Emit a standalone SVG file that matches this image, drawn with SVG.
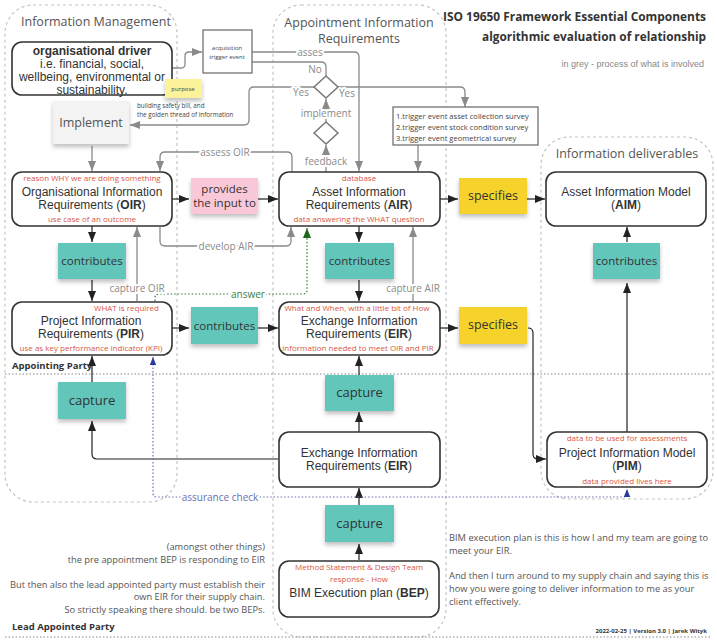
<svg xmlns="http://www.w3.org/2000/svg" width="717" height="644" viewBox="0 0 717 644">
<defs>
<style>
.lane{fill:none;stroke:#c4c4c4;stroke-width:1.2;stroke-dasharray:3 3}
.sep{fill:none;stroke:#888;stroke-width:1.2;stroke-dasharray:1.5 2}
.box{fill:#fff;stroke:#333;stroke-width:1.6}
.tb{fill:#fff;stroke:#666;stroke-width:1.2}
.n{font-family:"Liberation Sans",Arial,sans-serif;font-size:12px;fill:#333;text-anchor:middle}
.red{font-family:"Open Sans",sans-serif;font-size:8px;fill:#d9573f;text-anchor:middle}
.st{font-family:"Open Sans",sans-serif;fill:#333;text-anchor:middle}
.lbl{font-family:"Open Sans",sans-serif;font-size:10px;fill:#8a8a8a;text-anchor:middle;paint-order:stroke;stroke:#fff;stroke-width:4px;stroke-linejoin:round}
.lane-t{font-family:"Open Sans",sans-serif;font-size:12.5px;fill:#555}
.sm{font-family:"Open Sans",sans-serif;fill:#444}
.note{font-family:"Open Sans",sans-serif;font-size:9.3px;fill:#555}
.bold{font-family:"Open Sans",sans-serif;font-weight:bold;fill:#333}
.k{fill:none;stroke:#222;stroke-width:1.2}
.g{fill:none;stroke:#8a8a8a;stroke-width:1.3}
.gr{fill:none;stroke:#2f7a2f;stroke-width:1.2;stroke-dasharray:1.5 2}
.bl{fill:none;stroke:#6a6fb0;stroke-width:1.2;stroke-dasharray:1.5 2}
.teal{fill:#62c6bb}
.yel{fill:#f6d32c}
.pink{fill:#f9c8d8}
</style>
<filter id="sh" x="-20%" y="-20%" width="140%" height="150%">
<feDropShadow dx="0" dy="3" stdDeviation="2" flood-color="#000" flood-opacity="0.25"/>
</filter>
<marker id="ak" viewBox="0 0 10 8" refX="10" refY="4" markerWidth="10" markerHeight="8" markerUnits="userSpaceOnUse" orient="auto"><path d="M0,0 L10,4 L0,8 z" fill="#222"/></marker>
<marker id="ag" viewBox="0 0 10 8" refX="10" refY="4" markerWidth="10" markerHeight="8" markerUnits="userSpaceOnUse" orient="auto"><path d="M0,0 L10,4 L0,8 z" fill="#8a8a8a"/></marker>
<marker id="agr" viewBox="0 0 10 8" refX="10" refY="4" markerWidth="10" markerHeight="8" markerUnits="userSpaceOnUse" orient="auto"><path d="M0,0 L10,4 L0,8 z" fill="#1d6a1d"/></marker>
<marker id="abl" viewBox="0 0 10 8" refX="10" refY="4" markerWidth="8" markerHeight="7" markerUnits="userSpaceOnUse" orient="auto"><path d="M0,0 L10,4 L0,8 z" fill="#2a3a9a"/></marker>
<marker id="abls" viewBox="0 0 10 8" refX="0" refY="4" markerWidth="8" markerHeight="7" markerUnits="userSpaceOnUse" orient="auto"><path d="M10,0 L0,4 L10,8 z" fill="#2a3a9a"/></marker>
</defs>
<rect width="717" height="644" fill="#fff"/>

<!-- lanes -->
<g id="lanes">
<rect class="lane" x="5" y="5" width="172" height="497" rx="28"/>
<rect class="lane" x="273" y="5" width="173" height="632" rx="28"/>
<rect class="lane" x="541" y="137" width="172" height="362" rx="28"/>
<text class="lane-t" x="21" y="26">Information Management</text>
<text class="lane-t" x="359" y="27" text-anchor="middle">Appointment Information</text>
<text class="lane-t" x="359" y="43" text-anchor="middle">Requirements</text>
<text class="lane-t" x="627" y="158" text-anchor="middle">Information deliverables</text>
<line class="sep" x1="5" y1="374" x2="712" y2="374"/>
<line class="sep" x1="5" y1="637" x2="712" y2="637"/>
<text class="bold" x="12" y="369" font-size="9.5">Appointing Party</text>
<text class="bold" x="12" y="630" font-size="9.5">Lead Appointed Party</text>
</g>

<!-- titles and notes -->
<g id="title">
<text class="bold" x="706" y="21" font-size="12" text-anchor="end" textLength="263" lengthAdjust="spacingAndGlyphs">ISO 19650 Framework Essential Components</text>
<text class="bold" x="706" y="41" font-size="12" text-anchor="end" textLength="224" lengthAdjust="spacingAndGlyphs">algorithmic evaluation of relationship</text>
<text x="704" y="67" font-family="Liberation Sans, Arial, sans-serif" font-size="9" fill="#888" text-anchor="end">in grey - process of what is involved</text>
<text class="bold" x="707" y="633" font-size="6" text-anchor="end">2022-02-25 | Version 3.0 | Jarek Wityk</text>
</g>

<g id="note-left" class="note" text-anchor="end">
<text x="265" y="550">(amongst other things)</text>
<text x="265" y="563">the pre appointment BEP is responding to EIR</text>
<text x="265" y="588">But then also the lead appointed party must establish their</text>
<text x="265" y="600">own EIR for their supply chain.</text>
<text x="265" y="613">So strictly speaking there should. be two BEPs.</text>
</g>
<g id="note-right" class="note">
<text x="449" y="541">BIM execution plan is this is how I and my team are going to</text>
<text x="449" y="554">meet your EIR.</text>
<text x="449" y="579">And then I turn around to my supply chain and saying this is</text>
<text x="449" y="592">how you were going to deliver information to me as your</text>
<text x="449" y="605">client effectively.</text>
</g>

<!-- connectors -->
<g id="connectors">
<path class="k" d="M172,199 H189" marker-end="url(#ak)"/>
<path class="k" d="M258,199 H278" marker-end="url(#ak)"/>
<path class="k" d="M440,199 H458" marker-end="url(#ak)"/>
<path class="k" d="M527,199 H545" marker-end="url(#ak)"/>
<path class="k" d="M92,226 V242" marker-end="url(#ak)"/>
<path class="k" d="M92,280 V301" marker-end="url(#ak)"/>
<path class="k" d="M359,226 V242" marker-end="url(#ak)"/>
<path class="k" d="M359,280 V301" marker-end="url(#ak)"/>
<path class="k" d="M172,328 H189" marker-end="url(#ak)"/>
<path class="k" d="M258,328 H278" marker-end="url(#ak)"/>
<path class="k" d="M440,328 H458" marker-end="url(#ak)"/>
<path class="k" d="M528,328 Q533,328 533,333 V454 Q533,459 538,459 H546" stroke="#555" marker-end="url(#ak)"/>
<path class="k" d="M627,432 V283" stroke="#555" marker-end="url(#ak)"/>
<path class="k" d="M627,242 V227" marker-end="url(#ak)"/>
<path class="k" d="M92,382 V356" marker-end="url(#ak)"/>
<path class="k" d="M278,459 H97 Q92,459 92,454 V421" stroke="#444" marker-end="url(#ak)"/>
<path class="k" d="M359,375 V356" marker-end="url(#ak)"/>
<path class="k" d="M359,432 V412" marker-end="url(#ak)"/>
<path class="k" d="M359,505 V488" marker-end="url(#ak)"/>
<path class="k" d="M359,560 V544" marker-end="url(#ak)"/>

<path class="g" d="M172,68 H181 Q185,68 185,64 V56 Q185,52 189,52 H202" marker-end="url(#ag)"/>
<path class="g" d="M252,52 H354 Q359,52 359,57 V171" marker-end="url(#ag)"/>
<path class="g" d="M252,62 H321 Q326,62 326,67 V76"/>
<path class="g" d="M314,87 H254 Q249,87 249,92 V120 Q249,125 244,125 H130" marker-end="url(#ag)"/>
<path class="g" d="M338,87 H460 Q465,87 465,92 V107" marker-end="url(#ag)"/>
<path class="g" d="M326,122 V99" marker-end="url(#ag)"/>
<path class="g" d="M326,172 V145" marker-end="url(#ag)"/>
<path class="g" d="M418,145 V171" marker-end="url(#ag)"/>
<path class="g" d="M292,172 V157 Q292,152 287,152 H165 Q160,152 160,157 V171" marker-end="url(#ag)"/>
<path class="g" d="M92,146 V171" marker-end="url(#ag)"/>
<path class="g" d="M160,227 V241 Q160,246 165,246 H286 Q291,246 291,241 V227" marker-end="url(#ag)"/>
<path class="g" d="M137,301 V227" marker-end="url(#ag)"/>
<path class="g" d="M413,301 V227" marker-end="url(#ag)"/>
<path class="gr" d="M155,301 V298 Q155,294 159,294 H303 Q307,294 307,290 V228" marker-end="url(#agr)"/>
<path class="bl" d="M153,357 V493 Q153,497 157,497 H623 Q627,497 627,493 V489" marker-start="url(#abls)" marker-end="url(#abl)"/>

<text class="lbl" x="310" y="56">asses</text>
<text class="lbl" x="315" y="73">No</text>
<text class="lbl" x="301" y="96">Yes</text>
<text class="lbl" x="347" y="97">Yes</text>
<text class="lbl" x="326" y="117">implement</text>
<text class="lbl" x="326" y="165">feedback</text>
<text class="lbl" x="225" y="156">assess OIR</text>
<text class="lbl" x="226" y="250">develop AIR</text>
<text class="lbl" x="137" y="292">capture OIR</text>
<text class="lbl" x="413" y="292">capture AIR</text>
<text class="lbl" x="248" y="298" style="fill:#3d7d3d">answer</text>
<text class="lbl" x="220" y="501" style="fill:#6a6fb0">assurance check</text>
</g>

<!-- decision diamonds -->
<g id="decision1"><path d="M326,76 L338,87 L326,98 L314,87 Z" fill="#fff" stroke="#777" stroke-width="1.5"/></g>
<g id="decision2"><path d="M326,122 L338,133 L326,144 L314,133 Z" fill="#fff" stroke="#777" stroke-width="1.5"/></g>

<!-- nodes -->
<g id="org-driver">
<rect class="box" x="12" y="42" width="160" height="53" rx="10"/>
<text class="n" x="92" y="55" font-weight="bold" font-size="12.2">organisational driver</text>
<text class="n" x="92" y="68" font-size="11.6">i.e. financial, social,</text>
<text class="n" x="92" y="81" font-size="11.6">wellbeing, environmental or</text>
<text class="n" x="92" y="94" font-size="11.6">sustainability.</text>
</g>
<g id="purpose">
<rect x="165" y="79" width="37" height="19" fill="#fbf29a" filter="url(#sh)"/>
<text class="sm" x="183" y="91" font-size="6" text-anchor="middle">purpose</text>
</g>
<g id="safety-note" class="sm" font-size="6.3">
<text x="137" y="108">building safety bill, and</text>
<text x="137" y="117">the golden thread of information</text>
</g>
<g id="acquisition">
<rect class="tb" x="203" y="30" width="49" height="43"/>
<text class="sm" x="227" y="50" font-size="6" text-anchor="middle">acquisition</text>
<text class="sm" x="227" y="59" font-size="6" text-anchor="middle">trigger event</text>
</g>
<g id="implement">
<rect x="53" y="101" width="76" height="43" fill="#f3f3f3" filter="url(#sh)"/>
<text class="st" x="91" y="127" font-size="12.5" style="fill:#555">Implement</text>
</g>
<g id="trigger-list">
<rect class="tb" x="393" y="107" width="145" height="38"/>
<text class="sm" x="396" y="119" font-size="7.6">1.trigger event asset collection survey</text>
<text class="sm" x="396" y="130" font-size="7.6">2.trigger event stock condition survey</text>
<text class="sm" x="396" y="141" font-size="7.6">3.trigger event geometrical survey</text>
</g>

<g id="oir">
<rect class="box" x="12" y="172" width="160" height="54" rx="10"/>
<text class="red" x="92" y="181">reason WHY we are doing something</text>
<text class="n" x="92" y="196">Organisational Information</text>
<text class="n" x="92" y="209">Requirements (<tspan font-weight="bold">OIR</tspan>)</text>
<text class="red" x="92" y="222">use case of an outcome</text>
</g>
<g id="provides">
<rect class="pink" x="191" y="178" width="67" height="36" filter="url(#sh)"/>
<text class="st" x="224.5" y="193" font-size="11.5">provides</text>
<text class="st" x="224.5" y="207" font-size="11.5">the input to</text>
</g>
<g id="air">
<rect class="box" x="279" y="172" width="161" height="54" rx="10"/>
<text class="red" x="359" y="181">database</text>
<text class="n" x="359" y="196">Asset Information</text>
<text class="n" x="359" y="209">Requirements (<tspan font-weight="bold">AIR</tspan>)</text>
<text class="red" x="359" y="222">data answering the WHAT question</text>
</g>
<g id="specifies1">
<rect class="yel" x="459" y="178" width="68" height="36" filter="url(#sh)"/>
<text class="st" x="493" y="200" font-size="12.5">specifies</text>
</g>
<g id="aim">
<rect class="box" x="546" y="172" width="160" height="54" rx="10"/>
<text class="n" x="626" y="196">Asset Information Model</text>
<text class="n" x="626" y="209">(<tspan font-weight="bold">AIM</tspan>)</text>
</g>
<g id="contributes1">
<rect class="teal" x="58" y="243" width="68" height="36" filter="url(#sh)"/>
<text class="st" x="92" y="265" font-size="11.5">contributes</text>
</g>
<g id="contributes2">
<rect class="teal" x="325" y="243" width="69" height="36" filter="url(#sh)"/>
<text class="st" x="359.5" y="265" font-size="11.5">contributes</text>
</g>
<g id="contributes3">
<rect class="teal" x="593" y="243" width="67" height="36" filter="url(#sh)"/>
<text class="st" x="626.5" y="265" font-size="11.5">contributes</text>
</g>

<g id="pir">
<rect class="box" x="12" y="302" width="160" height="53" rx="10"/>
<text class="red" x="159" y="311" style="text-anchor:end">WHAT is required</text>
<text class="n" x="91" y="325">Project Information</text>
<text class="n" x="91" y="338">Requirements (<tspan font-weight="bold">PIR</tspan>)</text>
<text class="red" x="91" y="351">use as key performance indicator (KPI)</text>
</g>
<g id="contributes4">
<rect class="teal" x="191" y="307" width="67" height="37" filter="url(#sh)"/>
<text class="st" x="224.5" y="330" font-size="11.5">contributes</text>
</g>
<g id="eir">
<rect class="box" x="279" y="302" width="161" height="53" rx="10"/>
<text class="red" x="357" y="311">What and When, with a little bit of How</text>
<text class="n" x="359" y="325">Exchange Information</text>
<text class="n" x="359" y="338">Requirements (<tspan font-weight="bold">EIR</tspan>)</text>
<text class="red" x="358" y="351">information needed to meet OIR and PIR</text>
</g>
<g id="specifies2">
<rect class="yel" x="459" y="307" width="68" height="37" filter="url(#sh)"/>
<text class="st" x="493" y="329" font-size="12.5">specifies</text>
</g>

<g id="capture1">
<rect class="teal" x="58" y="382" width="68" height="37" filter="url(#sh)"/>
<text class="st" x="92" y="405" font-size="13">capture</text>
</g>
<g id="capture2">
<rect class="teal" x="325" y="375" width="69" height="36" filter="url(#sh)"/>
<text class="st" x="359.5" y="397" font-size="13">capture</text>
</g>
<g id="eir2">
<rect class="box" x="279" y="432" width="161" height="55" rx="10"/>
<text class="n" x="359" y="457">Exchange Information</text>
<text class="n" x="359" y="470">Requirements (<tspan font-weight="bold">EIR</tspan>)</text>
</g>
<g id="pim">
<rect class="box" x="547" y="432" width="160" height="55" rx="10"/>
<text class="red" x="627" y="441">data to be used for assessments</text>
<text class="n" x="627" y="457">Project Information Model</text>
<text class="n" x="627" y="470">(<tspan font-weight="bold">PIM</tspan>)</text>
<text class="red" x="627" y="484">data provided lives here</text>
</g>
<g id="capture3">
<rect class="teal" x="325" y="505" width="69" height="37" filter="url(#sh)"/>
<text class="st" x="359.5" y="528" font-size="13">capture</text>
</g>
<g id="bep">
<rect class="box" x="279" y="561" width="160" height="56" rx="10"/>
<text class="red" x="359" y="570">Method Statement &amp; Design Team</text>
<text class="red" x="359" y="582">response - How</text>
<text class="n" x="359" y="597" font-size="13">BIM Execution plan (<tspan font-weight="bold">BEP</tspan>)</text>
</g>
</svg>
